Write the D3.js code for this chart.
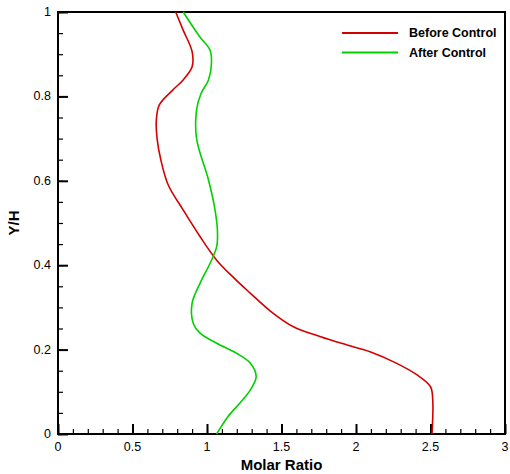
<!DOCTYPE html>
<html>
<head>
<meta charset="utf-8">
<script src="https://cdn.jsdelivr.net/npm/d3@7"></script>
<style>
  body { margin: 0; background: #fff; }
  text { font-family: Arial, "Liberation Sans", sans-serif; }
</style>
</head>
<body>
<div id="chart"></div>
<script>
// Y/H levels and molar ratio
var beforeY = [0, 0.081, 0.112, 0.140, 0.168, 0.195, 0.211, 0.231, 0.254, 0.292, 0.334, 0.37, 0.412, 0.468, 0.531, 0.59, 0.65, 0.70, 0.744, 0.78, 0.815, 0.839, 0.87, 0.906, 0.957, 1];
var beforeX = [2.51, 2.515, 2.50, 2.41, 2.27, 2.094, 1.94, 1.758, 1.58, 1.423, 1.29, 1.18, 1.065, 0.953, 0.84, 0.74, 0.69, 0.665, 0.66, 0.68, 0.77, 0.84, 0.90, 0.90, 0.84, 0.79];

var afterY = [0, 0.041, 0.073, 0.104, 0.136, 0.168, 0.191, 0.215, 0.239, 0.262, 0.31, 0.357, 0.404, 0.444, 0.483, 0.539, 0.602, 0.70, 0.768, 0.807, 0.839, 0.878, 0.91, 0.942, 1];
var afterX = [1.065, 1.14, 1.22, 1.29, 1.33, 1.29, 1.20, 1.065, 0.953, 0.908, 0.90, 0.953, 1.02, 1.065, 1.07, 1.05, 1.01, 0.93, 0.93, 0.96, 1.01, 1.03, 1.02, 0.95, 0.84];

var seriesNames = ["Before Control", "After Control"];
var seriesColors = ["#d40000", "#00d000"];
var xTicks = [0, 0.5, 1, 1.5, 2, 2.5, 3];
var yTicks = [0, 0.2, 0.4, 0.6, 0.8, 1];

var width = 510, height = 474;
var margin = {top: 12, right: 5, bottom: 40, left: 58};
var w = width - margin.left - margin.right,
    h = height - margin.top - margin.bottom;

var svg = d3.select("#chart").append("svg")
    .attr("width", width)
    .attr("height", height);

var g = svg.append("g")
    .attr("transform", "translate(" + margin.left + "," + margin.top + ")");

var x = d3.scaleLinear().domain([0, 3]).range([0, w]),
    y = d3.scaleLinear().domain([0, 1]).range([h, 0]);

// minor ticks (inside)
g.append("g")
    .attr("transform", "translate(0," + h + ")")
    .call(d3.axisTop(x).tickValues(d3.range(0, 3.001, 0.1)).tickSize(5).tickFormat(""))
    .call(function(s) { s.select(".domain").remove(); s.selectAll("line").attr("stroke-width", 1.2); });
g.append("g")
    .call(d3.axisRight(y).tickValues(d3.range(0, 1.001, 0.05)).tickSize(5).tickFormat(""))
    .call(function(s) { s.select(".domain").remove(); s.selectAll("line").attr("stroke-width", 1.2); });

// major ticks
g.append("g")
    .attr("class", "axis axis--x")
    .attr("transform", "translate(0," + h + ")")
    .call(d3.axisTop(x).tickValues(xTicks).tickSize(10).tickFormat(""))
    .call(function(s) { s.select(".domain").remove(); s.selectAll("line").attr("stroke-width", 2); });
g.append("g")
    .attr("class", "axis axis--y")
    .call(d3.axisRight(y).tickValues(yTicks).tickSize(10).tickFormat(""))
    .call(function(s) { s.select(".domain").remove(); s.selectAll("line").attr("stroke-width", 2); });

// tick labels
g.selectAll("text.xlab")
    .data(xTicks)
  .enter().append("text")
    .attr("class", "xlab")
    .attr("x", function(d) { return x(d); })
    .attr("y", h + 17)
    .attr("text-anchor", "middle")
    .attr("font-size", 12.5)
    .text(function(d) { return d; });

g.selectAll("text.ylab")
    .data(yTicks)
  .enter().append("text")
    .attr("class", "ylab")
    .attr("x", -7)
    .attr("y", function(d) { return y(d) + 4; })
    .attr("text-anchor", "end")
    .attr("font-size", 12.5)
    .text(function(d) { return d; });

// frame
g.append("rect")
    .attr("width", w)
    .attr("height", h)
    .attr("fill", "none")
    .attr("stroke", "#000")
    .attr("stroke-width", 2);

// curves
var line = d3.line()
    .x(function(d) { return x(d[0]); })
    .y(function(d) { return y(d[1]); })
    .curve(d3.curveCatmullRom);

var series = [d3.zip(beforeX, beforeY), d3.zip(afterX, afterY)];

g.selectAll("path.curve")
    .data(series)
  .enter().append("path")
    .attr("class", "curve")
    .attr("fill", "none")
    .attr("stroke", function(d, i) { return seriesColors[i]; })
    .attr("stroke-width", 1.6)
    .attr("d", line);

// legend
var legend = g.selectAll("g.legend")
    .data(seriesNames)
  .enter().append("g")
    .attr("class", "legend")
    .attr("transform", function(d, i) { return "translate(284," + (21 + i * 19.5) + ")"; });

legend.append("line")
    .attr("x1", 0).attr("x2", 56)
    .attr("stroke", function(d, i) { return seriesColors[i]; })
    .attr("stroke-width", 2);

legend.append("text")
    .attr("x", 67)
    .attr("y", 4)
    .attr("font-size", 12.5)
    .attr("font-weight", "bold")
    .text(function(d) { return d; });

// axis titles
svg.append("text")
    .attr("x", margin.left + w / 2)
    .attr("y", height - 4)
    .attr("text-anchor", "middle")
    .attr("font-size", 15)
    .attr("font-weight", "bold")
    .text("Molar Ratio");

svg.append("text")
    .attr("transform", "translate(19," + (margin.top + h / 2) + ") rotate(-90)")
    .attr("text-anchor", "middle")
    .attr("font-size", 15)
    .attr("font-weight", "bold")
    .text("Y/H");
</script>
</body>
</html>
